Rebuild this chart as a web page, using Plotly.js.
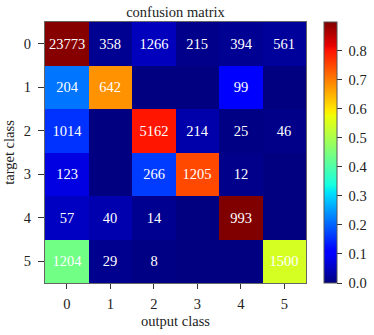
<!DOCTYPE html>
<html>
<head>
<meta charset="utf-8">
<script src="https://cdn.plot.ly/plotly-3.0.1.min.js"></script>
<style>
  html, body { margin: 0; padding: 0; background: #fff; }
  #chart { width: 374px; height: 335px; }
</style>
</head>
<body>
<div id="chart"></div>
<script>
// class labels for both axes
const classes = ['0', '1', '2', '3', '4', '5'];

// raw counts, rows = target class, cols = output class
const counts = [
    [23773, 358, 1266, 215, 394, 561],
    [204, 642, 0, 0, 99, 0],
    [1014, 0, 5162, 214, 25, 46],
    [123, 0, 266, 1205, 12, 0],
    [57, 40, 14, 0, 993, 0],
    [1204, 29, 8, 0, 0, 1500]
];

// matplotlib-style jet
const jet = [
    [0.0, 'rgb(0,0,128)'],
    [0.11, 'rgb(0,0,255)'],
    [0.125, 'rgb(0,0,255)'],
    [0.34, 'rgb(0,219,255)'],
    [0.35, 'rgb(0,230,247)'],
    [0.375, 'rgb(21,255,226)'],
    [0.64, 'rgb(239,255,8)'],
    [0.65, 'rgb(247,245,0)'],
    [0.66, 'rgb(255,236,0)'],
    [0.89, 'rgb(255,19,0)'],
    [0.91, 'rgb(232,0,0)'],
    [1.0, 'rgb(128,0,0)']
];

// colour = share of each target row
const rates = counts.map(row => {
    const total = row.reduce((a, b) => a + b, 0);
    return row.map(v => v / total);
});
const labels = counts.map(row => row.map(v => (v > 0 ? String(v) : '')));
const zMax = Math.max(...rates.map(r => Math.max(...r)));

const font = 'Liberation Serif, Times New Roman, serif';
const fs = 14.5;

// paper spans x 45..374; heatmap 45..306, colourbar starts at 324
const paperW = 374 - 45;

const trace = {
    type: 'heatmap',
    x: classes,
    y: classes,
    z: rates,
    text: labels,
    texttemplate: '%{text}',
    textfont: { color: '#ffffff', size: fs, family: font },
    colorscale: jet,
    zmin: 0,
    zmax: zMax,
    hoverinfo: 'skip',
    colorbar: {
        thickness: 13,
        thicknessmode: 'pixels',
        len: 261,
        lenmode: 'pixels',
        x: (324 - 45) / paperW,
        xanchor: 'left',
        y: 0.5,
        yanchor: 'middle',
        xpad: 0,
        ypad: 0,
        outlinewidth: 1,
        outlinecolor: '#555',
        dtick: 0.1,
        tick0: 0,
        tickformat: '.1f',
        tickprefix: '\u00a0',
        ticks: 'outside',
        ticklen: 5,
        tickcolor: '#333',
        tickfont: { size: fs, family: font, color: '#222' }
    }
};

const layout = {
    width: 374,
    height: 335,
    margin: { l: 45, r: 0, t: 22, b: 52 },
    paper_bgcolor: '#fff',
    plot_bgcolor: '#fff',
    font: { family: font, color: '#222', size: fs },
    title: {
        text: 'confusion matrix',
        font: { size: fs, family: font, color: '#222' },
        x: 175.5 / 374,
        xanchor: 'center',
        y: 0.963,
        yanchor: 'middle'
    },
    xaxis: {
        type: 'category',
        domain: [0, 261 / paperW],
        title: { text: 'output class', font: { size: fs }, standoff: 4 },
        ticks: 'outside',
        ticklen: 5,
        ticklabelstandoff: 3,
        tickcolor: '#333',
        showline: true,
        mirror: true,
        linecolor: '#666',
        linewidth: 1,
        showgrid: false,
        zeroline: false
    },
    yaxis: {
        type: 'category',
        autorange: 'reversed',
        title: { text: 'target class', font: { size: fs }, standoff: 5 },
        ticks: 'outside',
        ticklen: 6,
        ticklabelstandoff: 4,
        tickcolor: '#333',
        showline: true,
        mirror: true,
        linecolor: '#666',
        linewidth: 1,
        showgrid: false,
        zeroline: false
    }
};

Plotly.newPlot('chart', [trace], layout, { displayModeBar: false, staticPlot: true });
</script>
</body>
</html>
